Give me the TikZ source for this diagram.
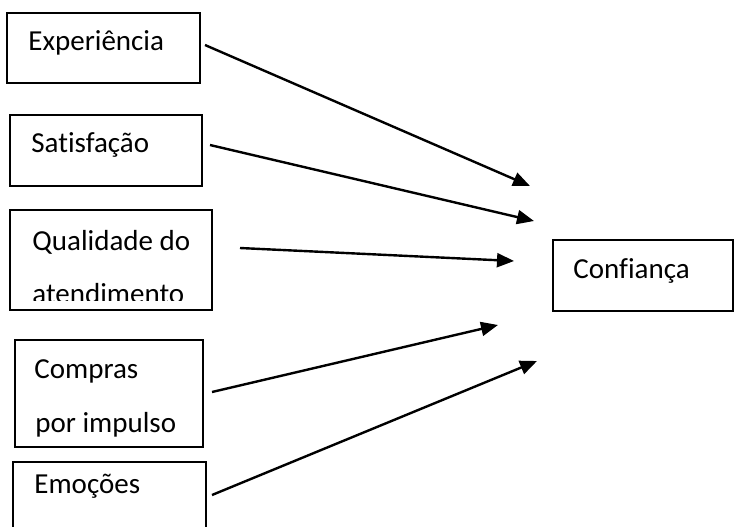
\documentclass[tikz,border=0pt]{standalone}
\usepackage{fontspec}
\setmainfont[Ligatures=NoCommon]{Carlito}
\usetikzlibrary{arrows.meta,fit}
\tikzset{
  box/.style={draw=black, line width=1pt, inner sep=0pt, fill=none},
  lbl/.style={anchor=base west, inner sep=0pt, font=\fontsize{14.5pt}{17pt}\selectfont},
  conn/.style={line width=1.2pt, -{Triangle[length=8.5pt,width=7pt]}}
}
\begin{document}
\begin{tikzpicture}[x=0.5pt,y=-0.5pt]
\useasboundingbox (0,0) rectangle (734,526);
\clip (0,0) rectangle (734,526);
% box corners
\coordinate (b1a) at (7,13);   \coordinate (b1b) at (200,83);
\coordinate (b2a) at (10,115); \coordinate (b2b) at (202,186);
\coordinate (b3a) at (10,210); \coordinate (b3b) at (212,310);
\coordinate (b4a) at (15,340); \coordinate (b4b) at (203,447);
\coordinate (b5a) at (13,462); \coordinate (b5b) at (206,545);
\coordinate (bca) at (553,240); \coordinate (bcb) at (733,311);
\node[box, fit=(b1a)(b1b)] (exp) {};
\node[box, fit=(b2a)(b2b)] (sat) {};
\node[box, fit=(b3a)(b3b)] (qual) {};
\node[box, fit=(b4a)(b4b)] (comp) {};
\node[box, fit=(b5a)(b5b)] (emo) {};
\node[box, fit=(bca)(bcb)] (conf) {};
% texts
\node[lbl] (t1) at (28,50) {Experiência};
\node[lbl] (t2) at (31,152) {Satisfação};
\node[lbl] (t3a) at (32,250) {Qualidade do};
\begin{scope}
\clip (12,212) rectangle (210,300);
\node[lbl] (t3b) at (32,303.5) {atendimento};
\end{scope}
\node[lbl] (t4a) at (34,378) {Compras};
\node[lbl] (t4b) at (35,432) {por impulso};
\node[lbl] (t5) at (34,493) {Emoções};
\node[lbl] (tc) at (573,278) {Confiança};
% arrow ends
\coordinate (s1) at (205,45);  \coordinate (e1) at (530,186);
\coordinate (s2) at (210,145); \coordinate (e2) at (534,221);
\coordinate (s3) at (240,248); \coordinate (e3) at (514,261);
\coordinate (s4) at (212,392); \coordinate (e4) at (498,325);
\coordinate (s5) at (212,495); \coordinate (e5) at (537,361);
\draw[conn] (s1) -- (e1);
\draw[conn] (s2) -- (e2);
\draw[conn] (s3) -- (e3);
\draw[conn] (s4) -- (e4);
\draw[conn] (s5) -- (e5);
\end{tikzpicture}
\end{document}
